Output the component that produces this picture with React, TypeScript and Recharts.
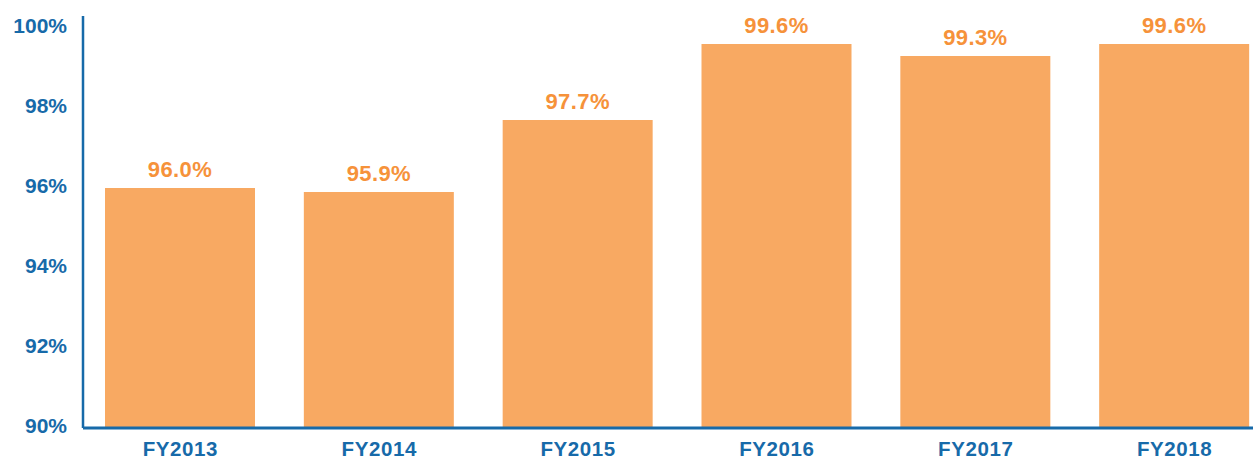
import { BarChart, Bar, XAxis, YAxis, LabelList } from 'recharts'

const years = ['FY2013', 'FY2014', 'FY2015', 'FY2016', 'FY2017', 'FY2018']
const rates = [96.0, 95.9, 97.7, 99.6, 99.3, 99.6]
const yTicks = [90, 92, 94, 96, 98, 100]

const data = years.map((year, i) => ({ year, rate: rates[i] }))

const BLUE = '#176aa9'
const ORANGE = '#f8a962'
const ORANGE_TEXT = '#f6923a'
const FONT = '"Liberation Sans", Arial, Helvetica, sans-serif'

export default function App() {
  return (
    <div
      style={{
        position: 'absolute',
        left: 0,
        top: 0,
        width: 1253,
        height: 459,
        overflow: 'hidden',
        background: '#fff',
      }}
    >
      <BarChart
        width={1290}
        height={459}
        data={data}
        margin={{ top: 16, right: 14, left: 0, bottom: 0 }}
        barSize={150}
      >
        <YAxis
          type="number"
          domain={[90, 100.3]}
          ticks={yTicks}
          allowDataOverflow
          width={83}
          axisLine={{ stroke: BLUE, strokeWidth: 2.5 }}
          tickLine={false}
          tickSize={0}
          tickMargin={16}
          tickFormatter={(v) => `${v}%`}
          tick={{ fill: BLUE, fontSize: 21, fontWeight: 700, fontFamily: FONT, dy: -2 }}
        />
        <XAxis
          dataKey="year"
          height={31}
          padding={{ left: -2, right: 2 }}
          axisLine={{ stroke: BLUE, strokeWidth: 3 }}
          tickLine={false}
          tickSize={0}
          tickMargin={13}
          interval={0}
          tick={{ fill: BLUE, fontSize: 20.5, fontWeight: 700, fontFamily: FONT, letterSpacing: 0.6 }}
        />
        <Bar dataKey="rate" fill={ORANGE} isAnimationActive={false}>
          <LabelList
            dataKey="rate"
            position="top"
            offset={11}
            formatter={(v: number) => `${v.toFixed(1)}%`}
            style={{ fill: ORANGE_TEXT, fontSize: 22, fontWeight: 700, fontFamily: FONT, letterSpacing: 0.4 }}
          />
        </Bar>
      </BarChart>
    </div>
  )
}
